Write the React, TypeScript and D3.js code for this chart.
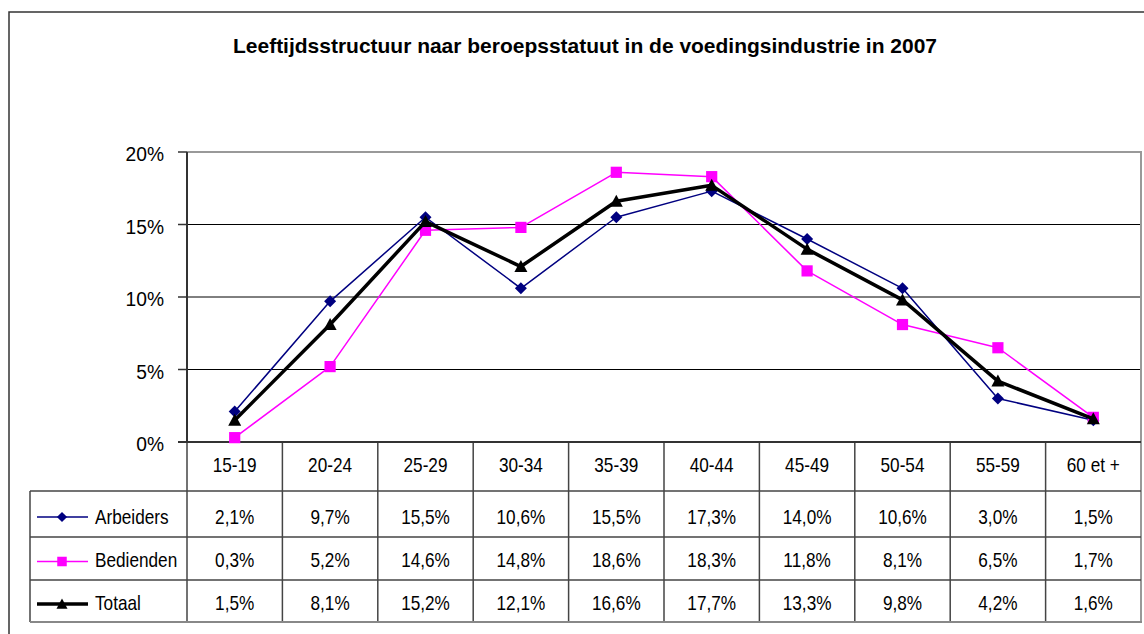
import React from "react";
import * as d3 from "d3";

const title = "Leeftijdsstructuur naar beroepsstatuut in de voedingsindustrie in 2007";
const categories = ["15-19", "20-24", "25-29", "30-34", "35-39", "40-44", "45-49", "50-54", "55-59", "60 et +"];
const arbeiders = [2.1, 9.7, 15.5, 10.6, 15.5, 17.3, 14.0, 10.6, 3.0, 1.5];
const bedienden = [0.3, 5.2, 14.6, 14.8, 18.6, 18.3, 11.8, 8.1, 6.5, 1.7];
const totaal = [1.5, 8.1, 15.2, 12.1, 16.6, 17.7, 13.3, 9.8, 4.2, 1.6];
const yTicks = [0, 5, 10, 15, 20];
const seriesNames = ["Arbeiders", "Bedienden", "Totaal"];

const W = 1144;
const H = 634;
const plotLeft = 187;
const plotRight = 1141;
const plotTop = 152;
const plotBottom = 442;
const legendLeft = 30;
const rowBounds = [442, 491, 537, 580, 622];
const rowBaselines = [472, 524, 567, 610];

const FONT = "'Liberation Sans', Arial, sans-serif";

const diamond = (s: number) => `M0,${-6 * s}L${6 * s},0L0,${6 * s}L${-6 * s},0Z`;
const square = (s: number) => `M${-5.6 * s},${-5.6 * s}H${5.6 * s}V${5.6 * s}H${-5.6 * s}Z`;
const triangle = (s: number) => `M0,${-6.5 * s}L${6.5 * s},${5.5 * s}L${-6.5 * s},${5.5 * s}Z`;

const seriesDefs = [
  { name: seriesNames[0], values: arbeiders, color: "#000080", width: 1.5, marker: diamond },
  { name: seriesNames[1], values: bedienden, color: "#FF00FF", width: 1.5, marker: square },
  { name: seriesNames[2], values: totaal, color: "#000000", width: 3.5, marker: triangle },
];

const fmt = (v: number) => d3.format(".1f")(v).replace(".", ",") + "%";

function SText({ x, y, s, anchor, children, size = 20, weight = "normal" }: any) {
  return (
    <text
      transform={`translate(${x},${y}) scale(${s},1)`}
      textAnchor={anchor}
      fontFamily={FONT}
      fontSize={size}
      fontWeight={weight}
      fill="#000"
    >
      {children}
    </text>
  );
}

export default function App() {
  const x = d3.scaleBand<string>().domain(categories).range([plotLeft, plotRight]).padding(0);
  const y = d3.scaleLinear().domain([0, 20]).range([plotBottom, plotTop]);
  const cx = (c: string) => (x(c) as number) + x.bandwidth() / 2;

  const line = d3
    .line<number>()
    .x((_, i) => cx(categories[i]))
    .y((d) => y(d));

  return (
    <svg
      width={W}
      height={H}
      style={{ position: "absolute", left: 0, top: 0, background: "#fff" }}
    >
      <rect x={0} y={0} width={W} height={H} fill="#fff" />
      {/* outer chart border */}
      <path d={`M9,${H + 2}V12H${W + 2}`} fill="none" stroke="#333" strokeWidth={1.5} />

      {/* title */}
      <text
        x={585}
        y={53}
        textAnchor="middle"
        fontFamily={FONT}
        fontSize={21}
        fontWeight="bold"
        textLength={704}
        lengthAdjust="spacingAndGlyphs"
      >
        {title}
      </text>

      {/* gridlines */}
      {yTicks
        .filter((t) => t > 0 && t < 20)
        .map((t) => (
          <line key={t} x1={plotLeft} x2={plotRight} y1={y(t)} y2={y(t)} stroke="#000" strokeWidth={1} />
        ))}
      {/* plot area border (top & right) */}
      <path
        d={`M${plotLeft},${y(20)}H${plotRight}V${plotBottom}`}
        fill="none"
        stroke="#999"
        strokeWidth={2}
      />

      {/* y axis */}
      <line x1={plotLeft} x2={plotLeft} y1={plotTop} y2={plotBottom} stroke="#333" strokeWidth={2} />
      {yTicks.map((t) => (
        <g key={t}>
          <line x1={plotLeft - 9} x2={plotLeft} y1={y(t)} y2={y(t)} stroke="#333" strokeWidth={1.5} />
          <SText x={164} y={y(t) + 9} s={0.96} anchor="end">
            {t + "%"}
          </SText>
        </g>
      ))}

      {/* data table grid */}
      {categories.map((c, i) => (
        <line
          key={c}
          x1={x(c) as number}
          x2={x(c) as number}
          y1={rowBounds[0]}
          y2={rowBounds[4]}
          stroke="#444"
          strokeWidth={1.5}
        />
      ))}
      <line x1={plotRight} x2={plotRight} y1={rowBounds[0]} y2={rowBounds[4]} stroke="#999" strokeWidth={2} />
      <line x1={legendLeft} x2={legendLeft} y1={rowBounds[1]} y2={rowBounds[4]} stroke="#444" strokeWidth={1.5} />
      {[1, 2, 3].map((r) => (
        <line
          key={r}
          x1={legendLeft}
          x2={plotRight}
          y1={rowBounds[r]}
          y2={rowBounds[r]}
          stroke="#444"
          strokeWidth={1.5}
        />
      ))}
      <line x1={legendLeft} x2={plotRight + 1} y1={rowBounds[4]} y2={rowBounds[4]} stroke="#888" strokeWidth={2} />
      {/* x axis line */}
      <line x1={plotLeft - 9} x2={plotRight} y1={plotBottom} y2={plotBottom} stroke="#333" strokeWidth={2} />

      {/* header row */}
      {categories.map((c) => (
        <SText key={c} x={cx(c)} y={rowBaselines[0]} s={0.86} anchor="middle">
          {c}
        </SText>
      ))}

      {/* series rows */}
      {seriesDefs.map((s, r) => {
        const ly = (rowBounds[r + 1] + rowBounds[r + 2]) / 2 + 3;
        return (
          <g key={s.name}>
            <line x1={37} x2={88} y1={ly} y2={ly} stroke={s.color} strokeWidth={s.width} />
            <path d={s.marker(0.85)} transform={`translate(62,${ly})`} fill={s.color} />
            <SText x={95} y={rowBaselines[r + 1]} s={0.86} anchor="start">
              {s.name}
            </SText>
            {s.values.map((v, i) => (
              <SText key={i} x={cx(categories[i])} y={rowBaselines[r + 1]} s={0.86} anchor="middle">
                {fmt(v)}
              </SText>
            ))}
          </g>
        );
      })}

      {/* lines and markers */}
      {seriesDefs.map((s) => (
        <g key={s.name}>
          <path d={line(s.values) as string} fill="none" stroke={s.color} strokeWidth={s.width} strokeLinejoin="round" />
          {s.values.map((v, i) => (
            <path
              key={i}
              d={s.marker(1)}
              transform={`translate(${cx(categories[i])},${y(v)})`}
              fill={s.color}
            />
          ))}
        </g>
      ))}
    </svg>
  );
}
